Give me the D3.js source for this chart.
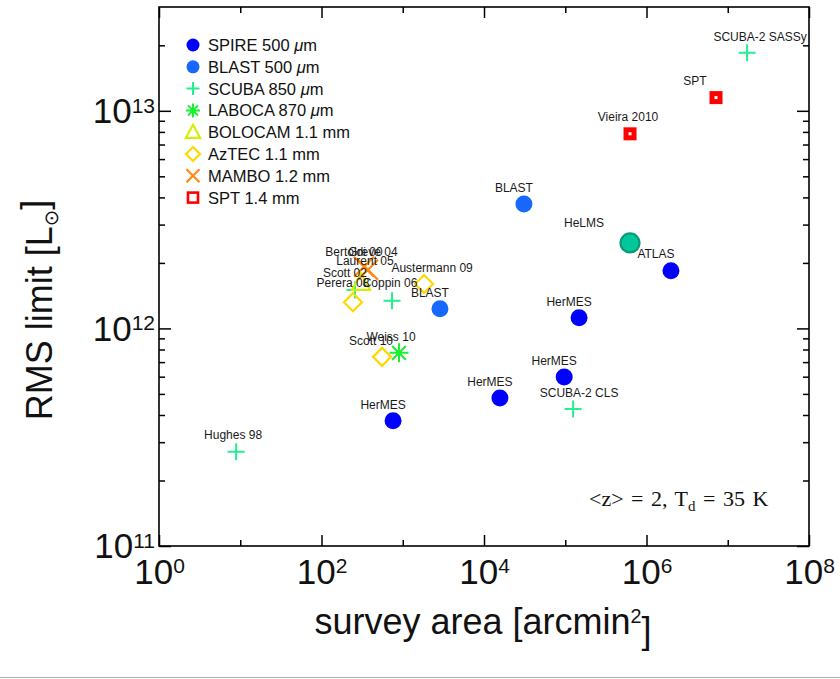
<!DOCTYPE html>
<html>
<head>
<meta charset="utf-8">
<script src="https://cdn.jsdelivr.net/npm/d3@7"></script>
<style>
  body { margin: 0; background: #fff; }
  svg { display: block; }
</style>
</head>
<body>
<svg id="chart" width="840" height="679"></svg>
<script>
// survey area [arcmin^2] vs RMS limit [Lsun]
const spire500 = [
    { name: "HerMES", area: 760, rms: 3.76e11 },
    { name: "HerMES", area: 1.57e4, rms: 4.79e11 },
    { name: "HerMES", area: 9.7e4, rms: 5.98e11 },
    { name: "HerMES", area: 1.48e5, rms: 1.12e12 },
    { name: "ATLAS", area: 2.0e6, rms: 1.84e12 }
];
const blast500 = [
    { name: "BLAST", area: 3.1e4, rms: 3.73e12 },
    { name: "BLAST", area: 2.87e3, rms: 1.23e12 }
];
const scuba850 = [
    { name: "Hughes 98", area: 8.9, rms: 2.71e11 },
    { name: "Scott 02", area: 258, rms: 1.50e12 },
    { name: "Coppin 06", area: 738, rms: 1.34e12 },
    { name: "SCUBA-2 CLS", area: 1.25e5, rms: 4.26e11 },
    { name: "SCUBA-2 SASSy", area: 1.73e7, rms: 1.85e13 }
];
const laboca870 = [
    { name: "Weiss 10", area: 899, rms: 7.72e11 }
];
const bolocam = [
    { name: "Laurent 05", area: 306, rms: 1.62e12 }
];
const aztec = [
    { name: "Perera 08", area: 244, rms: 1.32e12 },
    { name: "Austermann 09", area: 1.83e3, rms: 1.60e12 },
    { name: "Scott 10", area: 556, rms: 7.40e11 }
];
const mambo = [
    { name: "Bertoldi 00", area: 333, rms: 1.92e12 },
    { name: "Greve 04", area: 373, rms: 1.86e12 }
];
const spt = [
    { name: "Vieira 2010", area: 6.27e5, rms: 7.84e12 },
    { name: "SPT", area: 7.17e6, rms: 1.15e13 }
];
const helms = [
    { name: "HeLMS", area: 6.27e5, rms: 2.47e12 }
];

const xMajorTicks = [1, 1e2, 1e4, 1e6, 1e8];
const xMinorTicks = [1e1, 1e3, 1e5, 1e7];
const yMajorTicks = [1e11, 1e12, 1e13];

// label nudges (pixels, label centre relative to marker)
const defaultNudge = [-10, -16];
const labelNudge = {
    "ATLAS": [-15, -17],
    "HeLMS": [-46, -20],
    "SCUBA-2 CLS": [6, -16],
    "SCUBA-2 SASSy": [13, -16],
    "SPT": [-21, -17],
    "Vieira 2010": [-2, -17],
    "Hughes 98": [-3, -17],
    "Coppin 06": [-2, -18],
    "Scott 02": [-10, -17],
    "Laurent 05": [4, -22],
    "Bertoldi 00": [-10, -15],
    "Greve 04": [5, -18],
    "Perera 08": [-10, -19],
    "Austermann 09": [8, -16],
    "Weiss 10": [-8, -16],
    "Scott 10": [-11, -16]
};

const series = [
    { data: spire500, legend: ["SPIRE 500 ", "m"], shape: "circle", color: "#0000ff" },
    { data: blast500, legend: ["BLAST 500 ", "m"], shape: "circle", color: "#1668ff" },
    { data: scuba850, legend: ["SCUBA 850 ", "m"], shape: "plus", color: "#22f08e" },
    { data: laboca870, legend: ["LABOCA 870 ", "m"], shape: "asterisk", color: "#18f030" },
    { data: bolocam, legend: ["BOLOCAM 1.1 mm"], shape: "triangle", color: "#d6ee00" },
    { data: aztec, legend: ["AzTEC 1.1 mm"], shape: "diamond", color: "#ffd800" },
    { data: mambo, legend: ["MAMBO 1.2 mm"], shape: "cross", color: "#ff8a10" },
    { data: spt, legend: ["SPT 1.4 mm"], shape: "square", color: "#ff0000" },
    { data: helms, legend: null, shape: "helms", color: "#00c89a" }
];

const width = 840, height = 679;
const plotLeft = 159, plotRight = 809, plotTop = 7, plotBottom = 546;
const sans = "'Liberation Sans', Arial, Helvetica, sans-serif";

const svg = d3.select("#chart");

const x = d3.scaleLog().domain([1, 1e8]).range([plotLeft, plotRight]);
const y = d3.scaleLog().domain([1e11, 3e13]).range([plotBottom, plotTop]);

const yMinorTicks = [];
[1e11, 1e12, 1e13].forEach(d => {
    for (let k = 2; k <= 9; k++) if (d * k < 3e13) yMinorTicks.push(d * k);
});

// tick labels like 10^n
function powerLabel(sel) {
    sel.each(function(d) {
        const t = d3.select(this);
        t.text("10");
        t.append("tspan")
            .attr("dy", "-0.5em")
            .attr("font-size", "0.6em")
            .text(Math.round(Math.log10(d)));
    });
}

function styleAxis(g) {
    g.select(".domain").remove();
    g.selectAll(".tick line").attr("stroke", "#000").attr("stroke-width", 1.5);
    g.selectAll("text").attr("font-family", sans).attr("fill", "#111");
}

// bottom
svg.append("g").attr("transform", `translate(0,${plotBottom})`)
    .call(d3.axisBottom(x).tickValues(xMajorTicks).tickSize(-11).tickPadding(13))
    .call(styleAxis)
    .call(g => g.selectAll("text").attr("font-size", 35).call(powerLabel));
svg.append("g").attr("transform", `translate(0,${plotBottom})`)
    .call(d3.axisBottom(x).tickValues(xMinorTicks).tickSize(-6).tickFormat(""))
    .call(styleAxis);
// top
svg.append("g").attr("transform", `translate(0,${plotTop})`)
    .call(d3.axisTop(x).tickValues(xMajorTicks).tickSize(-11).tickFormat(""))
    .call(styleAxis);
svg.append("g").attr("transform", `translate(0,${plotTop})`)
    .call(d3.axisTop(x).tickValues(xMinorTicks).tickSize(-6).tickFormat(""))
    .call(styleAxis);
// left
svg.append("g").attr("transform", `translate(${plotLeft},0)`)
    .call(d3.axisLeft(y).tickValues(yMajorTicks).tickSize(-12).tickPadding(4))
    .call(styleAxis)
    .call(g => g.selectAll("text").attr("font-size", 35).attr("dy", "0.34em").call(powerLabel));
svg.append("g").attr("transform", `translate(${plotLeft},0)`)
    .call(d3.axisLeft(y).tickValues(yMinorTicks).tickSize(-6).tickFormat(""))
    .call(styleAxis);
// right
svg.append("g").attr("transform", `translate(${plotRight},0)`)
    .call(d3.axisRight(y).tickValues(yMajorTicks).tickSize(-12).tickFormat(""))
    .call(styleAxis);
svg.append("g").attr("transform", `translate(${plotRight},0)`)
    .call(d3.axisRight(y).tickValues(yMinorTicks).tickSize(-6).tickFormat(""))
    .call(styleAxis);

// frame
svg.append("rect")
    .attr("x", plotLeft).attr("y", plotTop)
    .attr("width", plotRight - plotLeft).attr("height", plotBottom - plotTop)
    .attr("fill", "none").attr("stroke", "#000").attr("stroke-width", 1.6);

// axis titles
const xTitle = svg.append("text")
    .attr("x", 483).attr("y", 634)
    .attr("text-anchor", "middle")
    .attr("font-family", sans).attr("font-size", 36).attr("fill", "#111")
    .text("survey area [arcmin");
xTitle.append("tspan").attr("dy", "-0.55em").attr("font-size", "0.55em").text("2");
xTitle.append("tspan").attr("dy", "0.55em").text("]");

const yTitle = svg.append("text")
    .attr("transform", `translate(52,310) rotate(-90)`)
    .attr("text-anchor", "middle")
    .attr("font-family", sans).attr("font-size", 36).attr("fill", "#111")
    .text("RMS limit [L");
yTitle.append("tspan").attr("dy", "0.3em").attr("font-size", "0.55em")
    .attr("font-family", "'DejaVu Sans', sans-serif").text("\u2299");
yTitle.append("tspan").attr("dy", "-0.3em").text("]");

// marker shapes
function shapePath(shape, s) {
    switch (shape) {
        case "plus": return `M${-s},0H${s}M0,${-s}V${s}`;
        case "cross": return `M${-s},${-s}L${s},${s}M${-s},${s}L${s},${-s}`;
        case "asterisk": {
            const a = s * 0.72;
            return `M${-s},0H${s}M0,${-s}V${s}M${-a},${-a}L${a},${a}M${-a},${a}L${a},${-a}`;
        }
        case "triangle": return `M0,${-s}L${s * 0.95},${s * 0.75}L${-s * 0.95},${s * 0.75}Z`;
        case "diamond": return `M0,${-s}L${s},0L0,${s}L${-s},0Z`;
        default: return "";
    }
}

function drawMarker(g, shape, color, s, sw) {
    if (shape === "circle") {
        g.append("circle").attr("r", s).attr("fill", color);
    } else if (shape === "helms") {
        g.append("circle").attr("r", s).attr("fill", color)
            .attr("stroke", "#0a9a78").attr("stroke-width", 2.2);
    } else if (shape === "square") {
        g.append("rect").attr("x", -s).attr("y", -s)
            .attr("width", 2 * s).attr("height", 2 * s)
            .attr("fill", "#fff").attr("stroke", color).attr("stroke-width", sw);
    } else {
        g.append("path").attr("d", shapePath(shape, s))
            .attr("fill", "none").attr("stroke", color)
            .attr("stroke-width", shape === "plus" || shape === "asterisk" ? 2 : 2.2)
            .attr("stroke-linejoin", "miter");
    }
}

const markerSize = { circle: 8.5, helms: 9.5, plus: 8.5, asterisk: 9.5, triangle: 9.5, diamond: 9, cross: 10, square: 4 };

const plot = svg.append("g");
series.forEach(sr => {
    plot.selectAll(null)
        .data(sr.data)
        .join("g")
        .attr("transform", d => `translate(${x(d.area)},${y(d.rms)})`)
        .each(function() { drawMarker(d3.select(this), sr.shape, sr.color, markerSize[sr.shape], 5); });
});

// point labels
const labels = svg.append("g")
    .attr("font-family", sans).attr("font-size", 12).attr("fill", "#1a1a1a")
    .attr("text-anchor", "middle");
series.forEach(sr => {
    labels.selectAll(null)
        .data(sr.data)
        .join("text")
        .attr("x", d => x(d.area) + (labelNudge[d.name] || defaultNudge)[0])
        .attr("y", d => y(d.rms) + (labelNudge[d.name] || defaultNudge)[1] + 4)
        .text(d => d.name);
});

// legend
const legendSize = { circle: 6.5, plus: 6.5, asterisk: 7, triangle: 7.5, diamond: 7, cross: 6.5, square: 5 };
const legend = svg.append("g");
series.filter(sr => sr.legend).forEach((sr, i) => {
    const row = legend.append("g").attr("transform", `translate(193,${45 + i * 21.8})`);
    drawMarker(row, sr.shape, sr.color, legendSize[sr.shape], 2.6);
    const t = row.append("text")
        .attr("x", 15).attr("y", 6)
        .attr("font-family", sans).attr("font-size", 16.5).attr("fill", "#111")
        .text(sr.legend[0]);
    if (sr.legend.length > 1) {
        t.append("tspan").attr("font-style", "italic").text("\u03bc");
        t.append("tspan").text(sr.legend[1]);
    }
});

// annotation
const note = svg.append("text")
    .attr("x", 589).attr("y", 506)
    .attr("font-family", "'Liberation Serif', 'Times New Roman', serif")
    .attr("font-size", 22).attr("word-spacing", 2).attr("fill", "#111");
note.append("tspan").text("<z> = 2, T");
note.append("tspan").attr("dy", 5).attr("font-size", 15).text("d");
note.append("tspan").attr("dy", -5).text(" = 35 K");

// bottom rule of the page
svg.append("line")
    .attr("x1", 0).attr("x2", width).attr("y1", 677.5).attr("y2", 677.5)
    .attr("stroke", "#b0b0b0").attr("stroke-width", 1);
</script>
</body>
</html>
